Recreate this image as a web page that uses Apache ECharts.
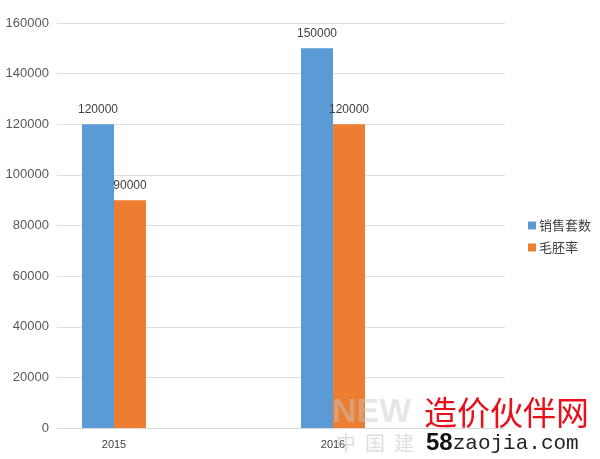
<!DOCTYPE html>
<html>
<head>
<meta charset="utf-8">
<script src="https://cdn.jsdelivr.net/npm/echarts@6/dist/echarts.min.js"></script>
<style>html,body{margin:0;padding:0;background:#fff;}#c{width:600px;height:459px;}</style>
</head>
<body>
<div id="c"></div>
<script>
var categories = ['2015', '2016'];
var seriesNames = ['销售套数', '毛胚率'];
var salesValues = [120000, 150000];
var roughValues = [90000, 120000];
var yTicks = [0, 20000, 40000, 60000, 80000, 100000, 120000, 140000, 160000];

var chart = echarts.init(document.getElementById('c'), null, {renderer: 'canvas'});
var labelStyle = {show: true, position: 'top', distance: 9, color: '#404040', fontSize: 12, fontFamily: 'Liberation Sans, Arial, sans-serif'};
chart.setOption({
  backgroundColor: '#fff',
  animation: false,
  color: ['#5B9BD5', '#ED7D31'],
  legend: {
    orient: 'vertical', left: 523, top: 214,
    itemWidth: 8, itemHeight: 8, itemGap: 9,
    icon: 'rect',
    textStyle: {color: '#404040', fontSize: 13, fontFamily: 'Noto Sans CJK SC', padding: [0,0,0,-2]},
    data: seriesNames
  },
  grid: [
    {left: 57, right: 95, top: 23, bottom: 31},
    {left: 4.5, width: 438, top: 23, bottom: 31}
  ],
  xAxis: [
    {type: 'category', gridIndex: 0, data: categories,
     axisLine: {show: true, lineStyle: {color: '#d9d9d9', width: 1}},
     axisTick: {show: false}, axisLabel: {show: false}},
    {type: 'category', gridIndex: 1, data: categories,
     axisLine: {show: false}, axisTick: {show: false},
     axisLabel: {color: '#404040', fontSize: 11, margin: 11, fontFamily: 'Liberation Sans, Arial, sans-serif'}}
  ],
  yAxis: [
    {type: 'value', gridIndex: 0, min: yTicks[0], max: yTicks[yTicks.length-1], interval: 20000,
     axisLine: {show: false}, axisTick: {show: false},
     axisLabel: {color: '#595959', fontSize: 13, margin: 8, fontFamily: 'Liberation Sans, Arial, sans-serif',
                 formatter: function (v) { return String(v); }},
     splitLine: {lineStyle: {color: '#dedede', width: 1}}},
    {type: 'value', gridIndex: 1, min: yTicks[0], max: yTicks[yTicks.length-1], interval: 20000,
     show: false, splitLine: {show: false}}
  ],
  series: [
    {name: seriesNames[0], type: 'bar', xAxisIndex: 1, yAxisIndex: 1, data: salesValues,
     barWidth: 32, barGap: '0%', label: labelStyle},
    {name: seriesNames[1], type: 'bar', xAxisIndex: 1, yAxisIndex: 1, data: roughValues,
     barWidth: 32, barGap: '0%', label: labelStyle}
  ],
  graphic: [
    {type: 'text', left: 332, top: 396, silent: true, z: 100,
     style: {text: 'NEW', fill: 'rgba(200,200,200,0.45)', font: 'bold 34px Liberation Sans'}},
    {type: 'text', left: 336, top: 433, silent: true, z: 100,
     style: {text: '中  国  建', fill: 'rgba(190,190,190,0.5)', font: '20px Noto Sans CJK SC'}},
    {type: 'text', left: 424, top: 396, silent: true, z: 100,
     style: {text: '造价伙伴网', fill: '#e8101a', font: '33px Noto Sans CJK SC'}},
    {type: 'text', left: 426, top: 431, silent: true, z: 100,
     style: {rich: {a: {font: 'bold 24px Liberation Sans', fill: '#111'}, b: {font: '21px Liberation Mono', fill: '#222'}},
             text: '{a|58}{b|zaojia.com}'}}
  ]
});
</script>
</body>
</html>
